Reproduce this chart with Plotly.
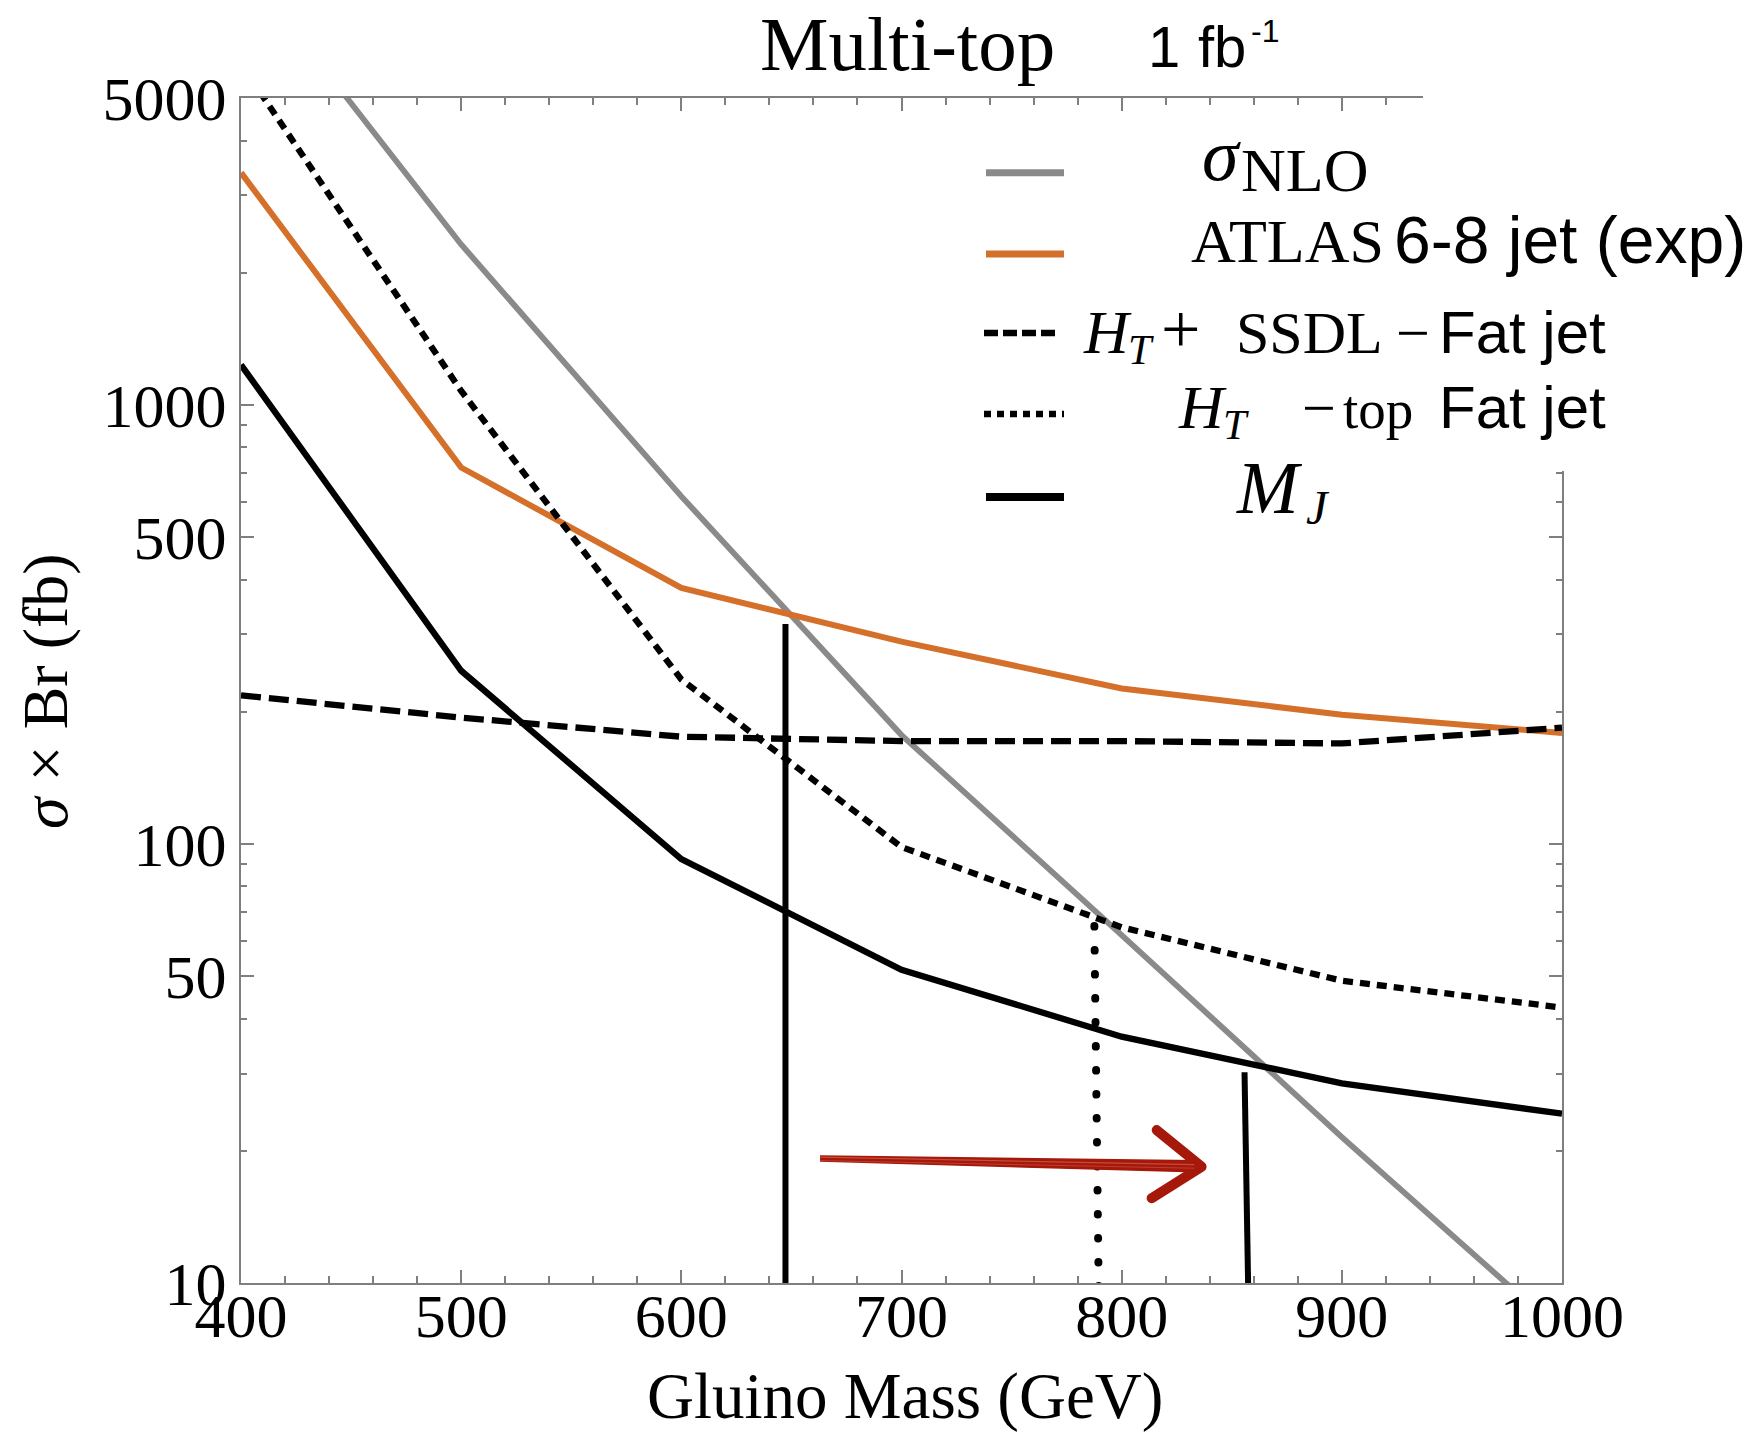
import math
import plotly.graph_objects as go

# ---------------------------------------------------------------------------
# Data
# ---------------------------------------------------------------------------
gluino_mass = [400, 500, 600, 700, 800, 900, 1000]          # GeV

sigma_nlo      = [10200, 2320, 619, 177, 62.0, 21.5, 7.7]    # fb
atlas_6_8_jet  = [3380, 720, 383, 289, 226, 197, 179]
ht_ssdl_fatjet = [218, 194, 175.5, 171.5, 171.5, 169.4, 184]
ht_top_fatjet  = [5980, 1076, 237, 98.4, 64.6, 48.8, 42.4]
m_j            = [1234, 248, 92.4, 51.7, 36.4, 28.5, 24.3]

# Mass-reach markers (mass at top/bottom, cross section at top/bottom)
atlas_reach_mass  = [647.3, 647.3]
atlas_reach_xsec  = [317, 10]
httop_reach_mass  = [787.6, 789.6]
httop_reach_xsec  = [65, 9.5]
mj_reach_mass     = [855.8, 857.5]
mj_reach_xsec     = [30.2, 9.5]

# Improvement arrow
arrow_shaft_mass = [663, 833]
arrow_shaft_xsec = [19.2, 18.45]
arrow_head_mass  = [815.9, 836.3, 813.6]
arrow_head_xsec  = [22.3, 18.4, 15.6]

x_ticks = [400, 500, 600, 700, 800, 900, 1000]
y_ticks = [10, 50, 100, 500, 1000, 5000]
y_tick_text = ["10", "50", "100", "500", "1000", "5000"]
y_minor = [20, 30, 40, 60, 70, 80, 90, 200, 300, 400,
           600, 700, 800, 900, 2000, 3000, 4000]

# ---------------------------------------------------------------------------
# Styling
# ---------------------------------------------------------------------------
SERIF = "Liberation Serif"
SANS = "Liberation Sans"
GRAY = "#8a8a8a"
ORANGE = "#d5702a"
ARROW_RED = "#a5180a"
FRAME = "#7f7f7f"

W, H = 1755, 1437
L, R, T, B = 241, 1562, 98, 1283
PX_PER_DECADE = (B - T) / math.log10(5000 / 10)


def px(x):
    return (x - L) / (R - L)


def py(y):
    return (B - y) / (B - T)


fig = go.Figure()


def curve(x, y, color, width, dash="solid", **kw):
    fig.add_trace(go.Scatter(
        x=x, y=y, mode="lines", showlegend=False, hoverinfo="skip",
        line=dict(color=color, width=width, dash=dash), **kw,
    ))


curve(gluino_mass, sigma_nlo, GRAY, 5.8)
curve(gluino_mass, atlas_6_8_jet, ORANGE, 6)
curve(gluino_mass, ht_ssdl_fatjet, "black", 6.3, "20px,8px")
curve(gluino_mass, ht_top_fatjet, "black", 6.3, "10px,7px")
curve(gluino_mass, m_j, "black", 6.3)

curve(atlas_reach_mass, atlas_reach_xsec, "black", 6)
curve(httop_reach_mass, httop_reach_xsec, "black", 8, "0.5px,23.5px")
curve(mj_reach_mass, mj_reach_xsec, "black", 6)


# arrow: tapered shaft (thin tail, thick near the head) plus a chevron head
def thickness_factor(px_half):
    return 10 ** (px_half / PX_PER_DECADE)


tail_f, head_f = thickness_factor(2.5), thickness_factor(5.5)
shaft_x = [arrow_shaft_mass[0], arrow_shaft_mass[1],
           arrow_shaft_mass[1], arrow_shaft_mass[0]]
shaft_y = [arrow_shaft_xsec[0] * tail_f, arrow_shaft_xsec[1] * head_f,
           arrow_shaft_xsec[1] / head_f, arrow_shaft_xsec[0] / tail_f]
curve(shaft_x, shaft_y, ARROW_RED, 1.5, fill="toself", fillcolor=ARROW_RED)
curve(arrow_head_mass, arrow_head_xsec, ARROW_RED, 10)
# light brush streaks along the shaft
curve(arrow_shaft_mass, [v * thickness_factor(1.5) for v in arrow_shaft_xsec],
      "rgba(220,120,100,0.55)", 1.2)
curve(arrow_shaft_mass, [v / thickness_factor(2.0) for v in arrow_shaft_xsec],
      "rgba(215,110,95,0.45)", 1.0)

# ---------------------------------------------------------------------------
# Legend and titles (drawn by hand)
# ---------------------------------------------------------------------------
shapes = [
    # blank out the frame behind the legend corner
    dict(type="rect", xref="paper", yref="paper",
         x0=px(1423), x1=px(1755), y0=py(471), y1=py(60),
         fillcolor="white", line=dict(width=0), layer="above"),
]


def sample(y, color, width, dash="solid", x0=986, x1=1064):
    shapes.append(dict(type="line", xref="paper", yref="paper",
                       x0=px(x0), x1=px(x1), y0=py(y), y1=py(y),
                       line=dict(color=color, width=width, dash=dash),
                       layer="above"))


sample(172.7, GRAY, 7)
sample(254, ORANGE, 7)
sample(333, "black", 6.5, "14px,5px", 984, 1057)
sample(414, "black", 6.5, "7px,6px", 984, 1064)
sample(497, "black", 8)

annotations = []


def label(text, left, baseline, family, size):
    asc = 0.905 if family == SANS else 0.891
    annotations.append(dict(
        text=text, xref="paper", yref="paper",
        x=px(left), y=py(baseline - asc * size),
        xanchor="left", yanchor="top", showarrow=False,
        borderpad=0, borderwidth=0,
        font=dict(family=family, size=size, color="black"),
    ))


# title
label("Multi-top", 760, 70, SERIF, 77)
label("1", 1148, 66.7, SANS, 58)
label("fb", 1198, 66.7, SANS, 58)
label("-1", 1251, 42, SANS, 32)

# legend rows
label("<i>σ</i>", 1202, 180, SERIF, 74)
label("NLO", 1241, 191.7, SERIF, 62)

label("ATLAS", 1191, 262.7, SERIF, 62)
label("6-8 jet (exp)", 1394, 262.7, SANS, 66)

label("<i>H</i>", 1083, 353, SERIF, 62)
label("<i>T</i>", 1128, 364, SERIF, 42)
label("+", 1161, 353, SERIF, 70)
label("SSDL", 1236, 353, SERIF, 60)
label("−", 1396, 353, SERIF, 60)
label("Fat jet", 1439, 353, SANS, 60)

label("<i>H</i>", 1178, 428, SERIF, 62)
label("<i>T</i>", 1223, 439, SERIF, 42)
label("−", 1302, 428, SERIF, 60)
label("top", 1343, 428, SERIF, 55)
label("Fat jet", 1439, 428, SANS, 60)

label("<i>M</i>", 1236, 513, SERIF, 74)
label("<i>J</i>", 1306, 524, SERIF, 48)

# axis titles
label("Gluino Mass (GeV)", 901 - 254, 1418, SERIF, 65)
annotations.append(dict(
    text="<i>σ</i> × Br (fb)", xref="paper", yref="paper",
    x=px(46), y=py(691), xanchor="center", yanchor="middle",
    textangle=-90, showarrow=False,
    font=dict(family=SERIF, size=64, color="black"),
))

axis_common = dict(
    showline=True, linecolor=FRAME, linewidth=2, mirror="ticks",
    ticks="inside", ticklen=13, tickwidth=1.5, tickcolor=FRAME,
    showgrid=False, zeroline=False,
    tickfont=dict(family=SERIF, size=62, color="black"),
)

fig.update_layout(
    width=W, height=H,
    margin=dict(l=L, r=W - R, t=T, b=H - B, pad=0),
    paper_bgcolor="white", plot_bgcolor="white",
    hovermode=False,
    xaxis=dict(
        range=[400, 1000], tickvals=x_ticks, ticklabelstandoff=-22,
        minor=dict(dtick=20, ticks="inside", ticklen=7, tickwidth=1.5,
                   tickcolor=FRAME, showgrid=False),
        **axis_common,
    ),
    yaxis=dict(
        type="log", range=[1, math.log10(5000)],
        tickvals=y_ticks, ticktext=y_tick_text,
        minor=dict(tickvals=y_minor, ticks="inside", ticklen=6, tickwidth=1.5,
                   tickcolor=FRAME, showgrid=False),
        **axis_common,
    ),
    shapes=shapes,
    annotations=annotations,
)

# round caps for the dotted reach marker and the arrow head
post = """
var gd = document.getElementById('{plot_id}');
var tr = gd.querySelectorAll('.scatterlayer .trace');
[6, 9].forEach(function(i){
  var p = tr[i] && tr[i].querySelector('path.js-line');
  if (p) { p.style.strokeLinecap = 'round'; p.style.strokeLinejoin = 'round'; }
});
"""

fig.write_html("out.html", config={"displayModeBar": False}, post_script=post)
